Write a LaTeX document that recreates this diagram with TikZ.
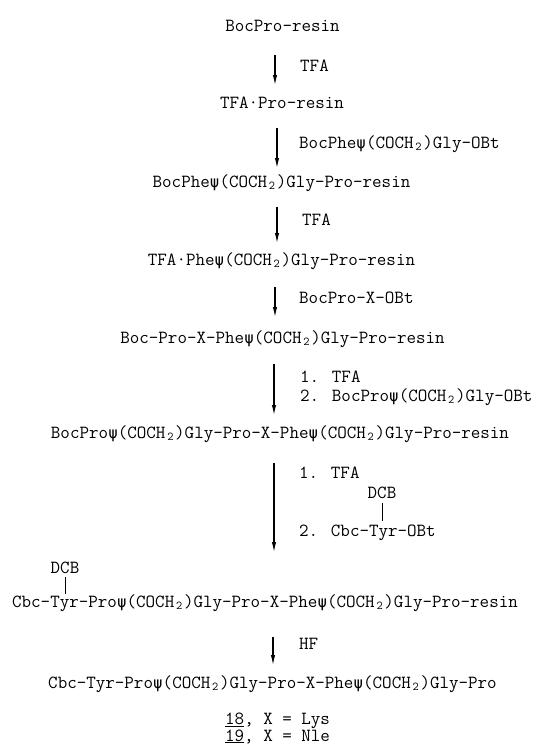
\documentclass[tikz,border=0pt]{standalone}
\usepackage{fontspec}
\newfontfamily\greekf{DejaVu Sans Mono}[Scale=0.85]
\usetikzlibrary{arrows.meta}
\newcommand\mypsi{\makebox[0.525em]{\greekf ψ}}
\newcommand\mysubtwo{\makebox[0.525em]{\raisebox{-0.35ex}{\fontsize{12}{12}\selectfont 2}}}
\begin{document}
\begin{tikzpicture}[x=1pt,y=-1pt,
  chem/.style={font=\ttfamily\fontsize{18.5}{20}\selectfont, inner sep=0pt, anchor=base},
  lab/.style={chem, anchor=base west},
  rxn/.style={line width=1.1pt, -{Latex[length=10pt,width=4.4pt]}},
  bond/.style={line width=1pt}]
\useasboundingbox (0,0) rectangle (539,748);

% compounds
\node[chem] (s1) at (282.5,31) {BocPro-resin};
\node[chem] (s2) at (282,108) {TFA·Pro-resin};
\node[chem] (s3) at (281.5,187) {BocPhe\mypsi(COCH\mysubtwo)Gly-Pro-resin};
\node[chem] (s4) at (281.5,265) {TFA·Phe\mypsi(COCH\mysubtwo)Gly-Pro-resin};
\node[chem] (s5) at (282.5,343) {Boc-Pro-X-Phe\mypsi(COCH\mysubtwo)Gly-Pro-resin};
\node[chem] (s6) at (280,438) {BocPro\mypsi(COCH\mysubtwo)Gly-Pro-X-Phe\mypsi(COCH\mysubtwo)Gly-Pro-resin};
\node[chem] (dcbb) at (65,573) {DCB};
\node[chem] (s7) at (265,607) {Cbc-Tyr-Pro\mypsi(COCH\mysubtwo)Gly-Pro-X-Phe\mypsi(COCH\mysubtwo)Gly-Pro-resin};
\node[chem] (s8) at (272.5,688) {Cbc-Tyr-Pro\mypsi(COCH\mysubtwo)Gly-Pro-X-Phe\mypsi(COCH\mysubtwo)Gly-Pro};
\node[lab, align=left, font=\ttfamily\fontsize{18.5}{15}\selectfont] (cpds) at (225,741)
  {\underline{18}, X = Lys\\\underline{19}, X = Nle};

% reagents
\node[lab] (r1) at (300,71) {TFA};
\node[lab] (r2) at (299,148) {BocPhe\mypsi(COCH\mysubtwo)Gly-OBt};
\node[lab] (r3) at (302,225) {TFA};
\node[lab] (r4) at (299,303) {BocPro-X-OBt};
\node[lab] (r5a) at (300,382) {1. TFA};
\node[lab] (r5b) at (300,401) {2. BocPro\mypsi(COCH\mysubtwo)Gly-OBt};
\node[lab] (r6a) at (299,478) {1. TFA};
\node[chem] (dcba) at (382,498) {DCB};
\node[lab] (r6b) at (299,536) {2. Cbc-Tyr-OBt};
\node[lab] (r7) at (299,649) {HF};

% arrows
\coordinate (a1t) at (275,55);  \coordinate (a1b) at (275,85);
\coordinate (a2t) at (277,128); \coordinate (a2b) at (277,168);
\coordinate (a3t) at (277,207); \coordinate (a3b) at (277,243);
\coordinate (a4t) at (275,287); \coordinate (a4b) at (275,317);
\coordinate (a5t) at (274,364); \coordinate (a5b) at (274,415);
\coordinate (a6t) at (274,463); \coordinate (a6b) at (274,552);
\coordinate (a7t) at (273,637); \coordinate (a7b) at (273,665);
\draw[rxn] (a1t) -- (a1b);
\draw[rxn] (a2t) -- (a2b);
\draw[rxn] (a3t) -- (a3b);
\draw[rxn] (a4t) -- (a4b);
\draw[rxn] (a5t) -- (a5b);
\draw[rxn] (a6t) -- (a6b);
\draw[rxn] (a7t) -- (a7b);

% DCB bonds
\coordinate (tyra) at (382,521);
\coordinate (tyrb) at (65,594);
\draw[bond,shorten <=5pt] (dcba.south) -- (tyra);
\draw[bond,shorten <=4pt] (dcbb.south) -- (tyrb);
\end{tikzpicture}
\end{document}
